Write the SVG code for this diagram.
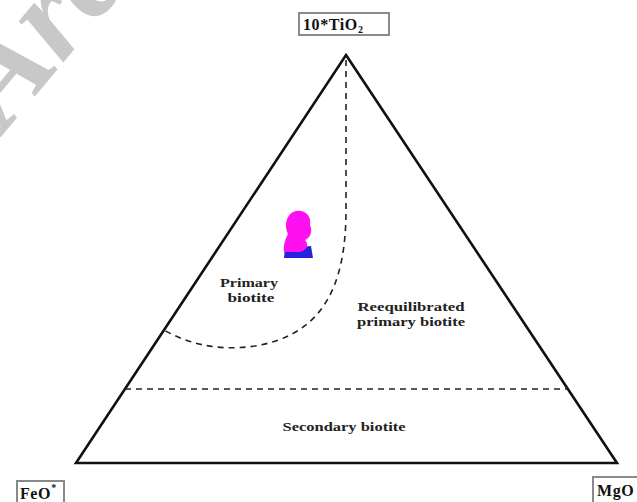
<svg xmlns="http://www.w3.org/2000/svg" width="637" height="502" viewBox="0 0 637 502">
<style>
.lbl{font-family:'Liberation Serif','Times New Roman',serif;font-weight:bold;font-size:12.5px;fill:#222}
.ax{font-family:'Liberation Serif','Times New Roman',serif;font-weight:bold;font-size:16px;letter-spacing:0.6px;fill:#111}
.box{fill:#fff;stroke:#8a8a8a;stroke-width:2}
.dash{fill:none;stroke:#222;stroke-width:1.6;stroke-dasharray:6,5}
</style>
<rect width="637" height="502" fill="#fff"/>
<g id="watermark">
<text x="0" y="0" transform="translate(5,132) rotate(-50)" font-family="'Liberation Serif',serif" font-style="italic" font-weight="bold" font-size="132" fill="#c8c8c8">Arc</text>
</g>
<g id="frame">
<polygon points="346,55 617,463 76,463" fill="none" stroke="#111" stroke-width="2.6" stroke-linejoin="miter"/>
</g>
<g id="connectors">
<path class="dash" d="M346,60 L346,210 C346,290 320,335 255,346 C215,352 185,342 164,330"/>
<line class="dash" x1="125" y1="389" x2="568" y2="389"/>
</g>
<g id="data">
<path d="M285,248 L311,246 L313,258 L284,258 Z" fill="#2a20e0"/>
<path d="M293,212 C302,208 312,214 310,225 C313,232 310,238 305,240 C310,245 306,252 298,252 L284,252 C283,244 286,238 288,234 C284,226 286,216 293,212 Z" fill="#ff10f0"/>
</g>
<g id="region-primary">
<text class="lbl" x="249" y="287" text-anchor="middle" textLength="58" lengthAdjust="spacingAndGlyphs">Primary</text>
<text class="lbl" x="251" y="302" text-anchor="middle" textLength="47" lengthAdjust="spacingAndGlyphs">biotite</text>
</g>
<g id="region-reequilibrated">
<text class="lbl" x="411" y="311" text-anchor="middle" textLength="107" lengthAdjust="spacingAndGlyphs">Reequilibrated</text>
<text class="lbl" x="411" y="326" text-anchor="middle" textLength="108" lengthAdjust="spacingAndGlyphs">primary biotite</text>
</g>
<g id="region-secondary">
<text class="lbl" x="344" y="431" text-anchor="middle" textLength="123" lengthAdjust="spacingAndGlyphs">Secondary biotite</text>
</g>
<g id="apex-ti">
<rect class="box" x="299" y="13" width="90" height="22"/>
<text class="ax" x="303" y="30">10*TiO<tspan font-size="10" dy="3">2</tspan></text>
</g>
<g id="apex-fe">
<rect class="box" x="17" y="481" width="47" height="22"/>
<text class="ax" x="20" y="499">FeO<tspan font-size="10" dy="-8">*</tspan></text>
</g>
<g id="apex-mg">
<rect class="box" x="593" y="477" width="50" height="26"/>
<text class="ax" x="597" y="496">MgO</text>
</g>
</svg>
